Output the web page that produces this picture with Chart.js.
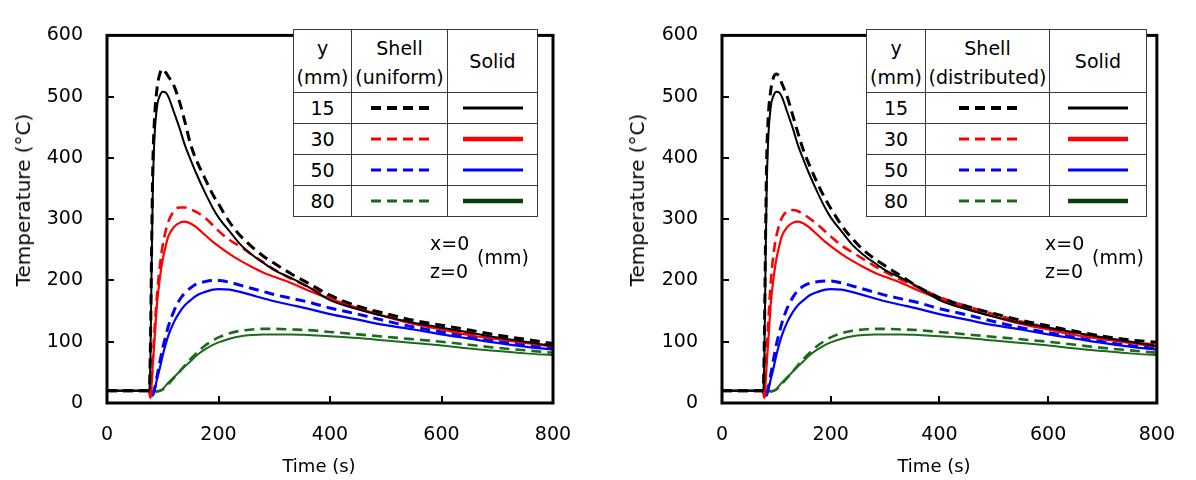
<!DOCTYPE html>
<html>
<head>
<meta charset="utf-8">
<script src="https://cdn.jsdelivr.net/npm/chart.js@4.4.1/dist/chart.umd.min.js"></script>
<style>
  html, body { margin: 0; padding: 0; background: #fff; }
  body { width: 1196px; height: 480px; position: relative; overflow: hidden; font-family: "DejaVu Sans", sans-serif; color: #000; }
  canvas { position: absolute; top: 0; }
  .lbl { position: absolute; white-space: nowrap; font-size: 19px; line-height: 1; }
  .ytitle { position: absolute; white-space: nowrap; font-size: 20px; transform: translate(-50%, -50%) rotate(-90deg); }
  .xtitle { position: absolute; white-space: nowrap; font-size: 18px; transform: translate(-50%, -50%); }
  table.leg { position: absolute; border-collapse: collapse; table-layout: fixed; background: #fff; font-size: 19px; }
  table.leg td { border: 1.6px solid #3a3a3a; text-align: center; vertical-align: middle; padding: 0; line-height: 1; }
  table.leg tr.hd td { height: 59px; }
  table.leg tr.rw td { height: 30px; }
  table.leg td.two { line-height: 29px; padding-top: 3px; }
  svg { display: block; margin: 0 auto; }
</style>
</head>
<body>
<canvas id="c1" width="598" height="480" style="left:0px;width:598px;height:480px"></canvas>
<canvas id="c2" width="598" height="480" style="left:598px;width:598px;height:480px"></canvas>
<div id="overlay"></div>
<script>
// ---- data ----
const time = [0, 74, 76, 78, 80, 82, 85, 90, 95, 100, 105, 110, 120, 130, 140, 150, 160, 175, 190, 200, 220, 240, 260, 280, 300, 330, 360, 400, 450, 500, 550, 600, 650, 700, 750, 800];

const solid15 = [20,20,22,80,220,340,430,485,502,508,507,500,475,449,420,397,375,345,318,303,280,258,242,229,217,204,190,168,153,141,131,123,115,107,100,93];
const solid30 = [20,20,15,8,30,60,100,165,205,235,255,272,287,294,296,293,287,275,263,256,243,232,222,213,206,196,184,170,155,141,129,120,111,104,98,92];
const solid50 = [20,20,18,15,12,12,20,40,58,78,95,110,132,148,160,168,175,181,185,186,185,181,176,171,166,160,154,145,136,127,120,112,105,98,92,87];
const solid80 = [20,20,20,19,19,19,19,19,20,23,28,33,42,51,60,68,77,87,95,99,105,109,111,112,112,112,111,109,106,102,98,94,89,85,81,78];

const shellU15 = [20,20,25,100,250,380,460,515,538,545,540,533,518,492,458,422,397,368,340,325,295,272,255,240,228,211,196,176,158,146,135,127,119,111,104,97];
const shellU30 = [20,20,15,10,35,70,115,180,225,258,280,296,313,319,319,316,312,303,290,281,266,255,242,230,218,203,190,173,157,143,131,122,113,106,100,94];
const shellU50 = [20,20,18,15,13,14,22,45,68,90,108,125,150,168,180,188,194,198,200,200,197,192,187,182,177,171,165,155,145,134,124,116,108,101,95,90];
const shellU80 = [20,20,20,19,19,19,19,19,20,22,26,31,41,51,62,72,81,93,102,107,114,118,120,121,121,120,119,116,112,108,104,100,95,90,86,82];

const shellD15 = [20,20,25,110,260,390,465,512,532,537,533,522,500,470,440,412,390,360,333,318,290,268,250,236,224,207,190,172,158,146,135,126,117,109,103,99];
const shellD30 = [20,20,15,10,40,80,130,200,245,272,290,302,313,315,313,308,302,292,280,272,257,246,235,224,214,201,189,173,158,145,133,123,114,107,100,95];
const shellD50 = [20,20,18,15,13,15,24,48,72,95,113,130,155,172,184,191,195,198,199,199,196,191,186,181,176,170,164,154,144,133,123,115,107,100,94,89];
const shellD80 = [20,20,20,19,19,19,19,19,20,22,26,31,41,51,62,72,81,93,102,107,114,118,120,121,121,120,119,116,112,108,104,100,95,90,86,82];

const depths = ['15', '30', '50', '80'];
const xTicks = [0, 200, 400, 600, 800];
const yTicks = [0, 100, 200, 300, 400, 500, 600];

// ---- styling ----
const colors = ['#000000', '#ff0000', '#0000ff', '#1c6a1c'];
const legendSolidColors = ['#000000', '#ff0000', '#0000ff', '#0b3d0b'];
const dashW = [3, 2.6, 3, 2.6];
const solidW = [2, 2.2, 2.2, 2];
const legDashW = [4, 3, 3, 3];
const legSolidW = [3, 4.5, 3, 4.5];

function pts(arr) { return time.map((t, i) => ({ x: t, y: arr[i] })); }

const framePlugin = {
  id: 'frame',
  afterDraw(chart) {
    const { ctx, chartArea: a, scales } = chart;
    ctx.save();
    ctx.strokeStyle = '#000';
    ctx.lineWidth = 2;
    ctx.beginPath();
    xTicks.slice(1, -1).forEach(v => {
      const px = Math.round(scales.x.getPixelForValue(v));
      ctx.moveTo(px, a.bottom); ctx.lineTo(px, a.bottom - 7);
    });
    yTicks.slice(1, -1).forEach(v => {
      const py = Math.round(scales.y.getPixelForValue(v));
      ctx.moveTo(a.left, py); ctx.lineTo(a.left + 7, py);
    });
    ctx.stroke();
    ctx.lineWidth = 3;
    ctx.strokeRect(a.left, a.top, a.right - a.left, a.bottom - a.top);
    ctx.restore();
  }
};

function makeChart(id, yw, padR, shells) {
  const solids = [solid15, solid30, solid50, solid80];
  const datasets = [];
  for (let i = 0; i < 4; i++) {
    datasets.push({
      label: 'Solid y=' + depths[i] + ' mm', data: pts(solids[i]),
      borderColor: colors[i], borderWidth: solidW[i], pointRadius: 0,
      cubicInterpolationMode: 'monotone', fill: false
    });
    datasets.push({
      label: 'Shell y=' + depths[i] + ' mm', data: pts(shells[i]),
      borderColor: colors[i], borderWidth: dashW[i], borderDash: [10, 6], pointRadius: 0,
      cubicInterpolationMode: 'monotone', fill: false
    });
  }
  return new Chart(document.getElementById(id), {
    type: 'line',
    data: { datasets },
    options: {
      responsive: false, animation: false, devicePixelRatio: 1,
      layout: { padding: { top: 22, right: padR, bottom: 0, left: 0 } },
      plugins: { legend: { display: false }, tooltip: { enabled: false } },
      scales: {
        x: {
          type: 'linear', min: 0, max: 800,
          afterFit(s) { s.height = 77; },
          afterBuildTicks(s) { s.ticks = xTicks.map(v => ({ value: v })); },
          grid: { display: false, drawTicks: false }, border: { display: false },
          ticks: { color: '#000', font: { family: 'DejaVu Sans', size: 19 }, padding: 21, maxRotation: 0, autoSkip: false }
        },
        y: {
          type: 'linear', min: 0, max: 600,
          afterFit(s) { s.width = yw; },
          afterBuildTicks(s) { s.ticks = yTicks.map(v => ({ value: v })); },
          grid: { display: false, drawTicks: false }, border: { display: false },
          ticks: { color: '#000', font: { family: 'DejaVu Sans', size: 19 }, padding: 24, autoSkip: false }
        }
      }
    },
    plugins: [framePlugin]
  });
}

makeChart('c1', 107, 45, [shellU15, shellU30, shellU50, shellU80]);
makeChart('c2', 124, 31, [shellD15, shellD30, shellD50, shellD80]);

// ---- overlay texts and legend tables ----
function line(w, color, dashed, len) {
  return '<svg width="' + len + '" height="8"><line x1="0" y1="4" x2="' + len + '" y2="4" stroke="' + color +
    '" stroke-width="' + w + '"' + (dashed ? ' stroke-dasharray="10,6"' : '') + '/></svg>';
}
function legend(left, cols, shellName) {
  let h = '<table class="leg" style="left:' + left + 'px;top:29px;width:' + (cols[0] + cols[1] + cols[2]) + 'px">';
  h += '<colgroup><col style="width:' + cols[0] + 'px"><col style="width:' + cols[1] + 'px"><col style="width:' + cols[2] + 'px"></colgroup>';
  h += '<tr class="hd"><td class="two">y<br>(mm)</td><td class="two">Shell<br>' + shellName + '</td><td>Solid</td></tr>';
  for (let i = 0; i < 4; i++) {
    h += '<tr class="rw"><td>' + depths[i] + '</td><td>' + line(legDashW[i], colors[i], true, 58) +
      '</td><td>' + line(legSolidW[i], legendSolidColors[i], false, 60) + '</td></tr>';
  }
  return h + '</table>';
}
function texts(xl, mmL, ytx, xtx) {
  return '<div class="lbl" style="left:' + xl + 'px;top:234px">x=0</div>' +
    '<div class="lbl" style="left:' + xl + 'px;top:262px">z=0</div>' +
    '<div class="lbl" style="left:' + mmL + 'px;top:248px">(mm)</div>' +
    '<div class="ytitle" style="left:' + ytx + 'px;top:200px">Temperature (°C)</div>' +
    '<div class="xtitle" style="left:' + xtx + 'px;top:465px">Time (s)</div>';
}
document.getElementById('overlay').innerHTML =
  legend(293, [58, 96, 90], '(uniform)') + legend(866, [59, 124, 97], '(distributed)') +
  texts(430, 477, 23, 319) + texts(1045, 1092, 637, 934);
</script>
</body>
</html>
